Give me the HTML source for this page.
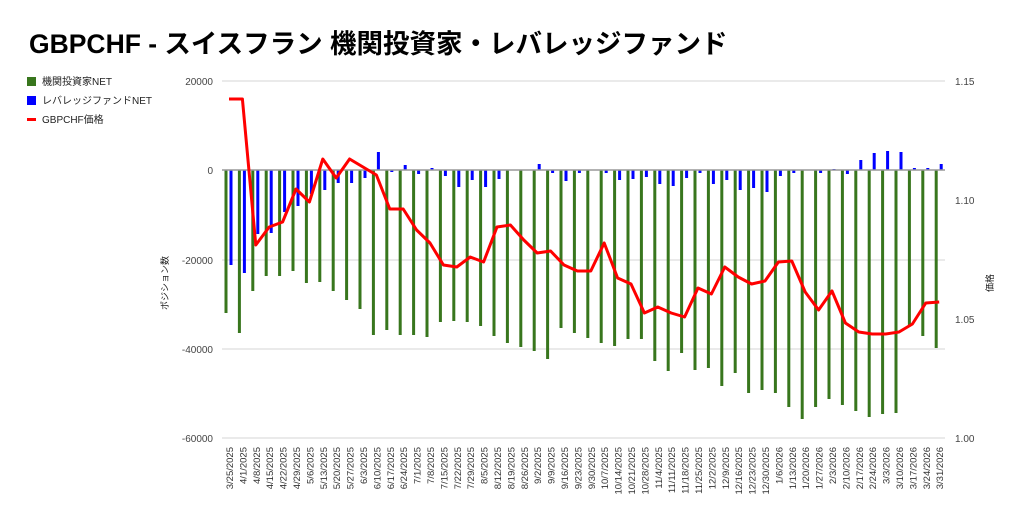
<!DOCTYPE html>
<html><head><meta charset="utf-8"><style>
html,body{margin:0;padding:0;background:#fff;}
svg{display:block;font-family:"Liberation Sans","Noto Sans CJK JP",sans-serif;}
</style></head><body>
<svg id="c" width="1024" height="519" viewBox="0 0 1024 519" xmlns="http://www.w3.org/2000/svg">
<rect width="1024" height="519" fill="#fff"/>
<text x="29" y="53" font-size="26.5" font-weight="bold" fill="#000">GBPCHF - スイスフラン 機関投資家・レバレッジファンド</text>
<rect x="27" y="77" width="9" height="9" fill="#38761d"/>
<text x="42" y="85" font-size="10" fill="#222">機関投資家NET</text>
<rect x="27" y="96" width="9" height="9" fill="#0000ff"/>
<text x="42" y="104" font-size="10" fill="#222">レバレッジファンドNET</text>
<rect x="27" y="118" width="9" height="3" fill="#ff0000"/>
<text x="42" y="123" font-size="10" fill="#222">GBPCHF価格</text>
<g stroke="#d4d4d4" stroke-width="1">
<line x1="222" x2="945" y1="81" y2="81"/>
<line x1="222" x2="945" y1="260" y2="260"/>
<line x1="222" x2="945" y1="349" y2="349"/>
<line x1="222" x2="945" y1="438" y2="438"/>
</g>
<g font-size="10" fill="#444" text-anchor="end">
<text x="213" y="85">20000</text>
<text x="213" y="174">0</text>
<text x="213" y="264">-20000</text>
<text x="213" y="353">-40000</text>
<text x="213" y="442">-60000</text>
</g>
<g font-size="10" fill="#444">
<text x="955" y="85">1.15</text>
<text x="955" y="204">1.10</text>
<text x="955" y="323">1.05</text>
<text x="955" y="442">1.00</text>
</g>
<text transform="translate(168,283) rotate(-90)" font-size="9" fill="#222" text-anchor="middle">ポジション数</text>
<text transform="translate(993,283) rotate(-90)" font-size="9" fill="#222" text-anchor="middle">価格</text>
<g id="bars"></g>
<line x1="222" x2="945" y1="170" y2="170" stroke="#999" stroke-width="1.5"/>
<polyline id="red" fill="none" stroke="#ff0000" stroke-width="3" stroke-linejoin="round" points=""/>
<g font-size="9.5" fill="#333" text-anchor="end">
<text transform="translate(233,447) rotate(-90)">3/25/2025</text>
<text transform="translate(246.4,447) rotate(-90)">4/1/2025</text>
<text transform="translate(259.8,447) rotate(-90)">4/8/2025</text>
<text transform="translate(273.2,447) rotate(-90)">4/15/2025</text>
<text transform="translate(286.6,447) rotate(-90)">4/22/2025</text>
<text transform="translate(300,447) rotate(-90)">4/29/2025</text>
<text transform="translate(313.4,447) rotate(-90)">5/6/2025</text>
<text transform="translate(326.8,447) rotate(-90)">5/13/2025</text>
<text transform="translate(340.2,447) rotate(-90)">5/20/2025</text>
<text transform="translate(353.6,447) rotate(-90)">5/27/2025</text>
<text transform="translate(367,447) rotate(-90)">6/3/2025</text>
<text transform="translate(380.4,447) rotate(-90)">6/10/2025</text>
<text transform="translate(393.8,447) rotate(-90)">6/17/2025</text>
<text transform="translate(407.2,447) rotate(-90)">6/24/2025</text>
<text transform="translate(420.6,447) rotate(-90)">7/1/2025</text>
<text transform="translate(434,447) rotate(-90)">7/8/2025</text>
<text transform="translate(447.4,447) rotate(-90)">7/15/2025</text>
<text transform="translate(460.8,447) rotate(-90)">7/22/2025</text>
<text transform="translate(474.2,447) rotate(-90)">7/29/2025</text>
<text transform="translate(487.6,447) rotate(-90)">8/5/2025</text>
<text transform="translate(501,447) rotate(-90)">8/12/2025</text>
<text transform="translate(514.4,447) rotate(-90)">8/19/2025</text>
<text transform="translate(527.8,447) rotate(-90)">8/26/2025</text>
<text transform="translate(541.2,447) rotate(-90)">9/2/2025</text>
<text transform="translate(554.6,447) rotate(-90)">9/9/2025</text>
<text transform="translate(568,447) rotate(-90)">9/16/2025</text>
<text transform="translate(581.4,447) rotate(-90)">9/23/2025</text>
<text transform="translate(594.8,447) rotate(-90)">9/30/2025</text>
<text transform="translate(608.2,447) rotate(-90)">10/7/2025</text>
<text transform="translate(621.6,447) rotate(-90)">10/14/2025</text>
<text transform="translate(635,447) rotate(-90)">10/21/2025</text>
<text transform="translate(648.4,447) rotate(-90)">10/28/2025</text>
<text transform="translate(661.8,447) rotate(-90)">11/4/2025</text>
<text transform="translate(675.2,447) rotate(-90)">11/11/2025</text>
<text transform="translate(688.6,447) rotate(-90)">11/18/2025</text>
<text transform="translate(702,447) rotate(-90)">11/25/2025</text>
<text transform="translate(715.4,447) rotate(-90)">12/2/2025</text>
<text transform="translate(728.8,447) rotate(-90)">12/9/2025</text>
<text transform="translate(742.2,447) rotate(-90)">12/16/2025</text>
<text transform="translate(755.6,447) rotate(-90)">12/23/2025</text>
<text transform="translate(769,447) rotate(-90)">12/30/2025</text>
<text transform="translate(782.4,447) rotate(-90)">1/6/2026</text>
<text transform="translate(795.8,447) rotate(-90)">1/13/2026</text>
<text transform="translate(809.2,447) rotate(-90)">1/20/2026</text>
<text transform="translate(822.6,447) rotate(-90)">1/27/2026</text>
<text transform="translate(836,447) rotate(-90)">2/3/2026</text>
<text transform="translate(849.4,447) rotate(-90)">2/10/2026</text>
<text transform="translate(862.8,447) rotate(-90)">2/17/2026</text>
<text transform="translate(876.2,447) rotate(-90)">2/24/2026</text>
<text transform="translate(889.6,447) rotate(-90)">3/3/2026</text>
<text transform="translate(903,447) rotate(-90)">3/10/2026</text>
<text transform="translate(916.4,447) rotate(-90)">3/17/2026</text>
<text transform="translate(929.8,447) rotate(-90)">3/24/2026</text>
<text transform="translate(943.2,447) rotate(-90)">3/31/2026</text>
</g>
</svg>
<script>
var G=[313,333,291,276,276,271,283,282,291,300,309,335,330,335,335,337,322,321,322,326,336,343,347,351,359,328,333,338,343,346,339,339,361,371,353,370,368,386,373,393,390,393,407,419,407,399,405,411,417,414,413,326,336,348];
var B=[265,273,234,233,212,206,194,190,183,183,178,152,172,165,174,168,176,187,180,187,179,170,170,164,173,181,173,170,173,180,179,177,184,186,178,173,184,180,190,188,192,176,173,170,173,169,174,160,153,151,152,168,168,164];
var R=[99,99,245,227,222,189,202,159,178,159,167,175,209,209,230,243,265,267,257,262,227,225,240,253,251,265,271,271,243,278,284,313,307,313,317,288,294,267,277,284,281,262,261,292,310,291,323,332,334,334,332,324,303,302];
var ns="http://www.w3.org/2000/svg",bars=document.getElementById('bars'),pts=[];
function r(x,y1,y2,c){var e=document.createElementNS(ns,'rect');e.setAttribute('x',x);e.setAttribute('y',Math.min(y1,y2));e.setAttribute('width',3);e.setAttribute('height',Math.max(0.5,Math.abs(y2-y1)));e.setAttribute('fill',c);bars.appendChild(e);}
for(var i=0;i<54;i++){var cx=229+13.4*i;
r(cx-4.5,170,G[i],'#38761d');r(cx+0.5,170,B[i],'#0000ff');pts.push(cx.toFixed(1)+','+R[i]);}
document.getElementById('red').setAttribute('points',pts.join(' '));
</script>
</body></html>
